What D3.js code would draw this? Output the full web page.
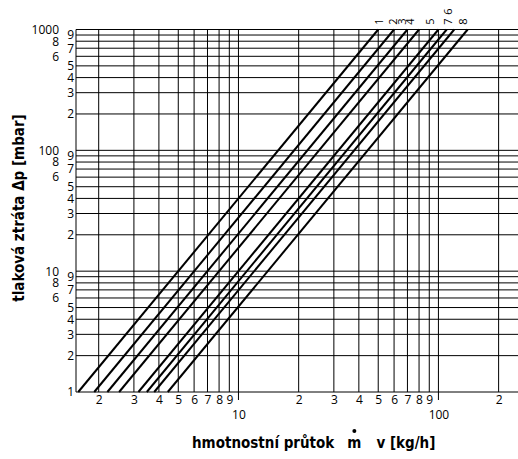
<!DOCTYPE html>
<meta charset="utf-8">
<style>
body { margin: 0; background: #fff; }
svg { display: block; }
.grid line { stroke: #000; stroke-width: 1; }
.curve { fill: none; stroke: #000; stroke-width: 2; }
.tick-label text, .lbl { font-family: "Open Sans", "Noto Sans", sans-serif; font-size: 12px; fill: #000; }
.lbl { font-size: 11px; }
.title { font-family: "Liberation Sans Narrow", "DejaVu Sans Condensed", "Roboto", sans-serif; font-stretch: condensed; font-weight: bold; font-size: 15px; fill: #000; }
</style>
<body>
<script src="https://d3js.org/d3.v7.min.js"></script>
<script>

var width = 518,
    height = 459;

// curve numbers and the flow (kg/h) where each curve meets 1 mbar and 1000 mbar
var curveIds = ["1", "2", "3", "4", "5", "6", "7", "8"];
var flowAt1 = [1.58, 1.90, 2.21, 2.53, 3.16, 3.48, 3.79, 4.43];
var flowAt1000 = [50, 60, 70, 80, 100, 110, 120, 140];
var pressureEnds = [1, 1000];

// grid values
var xGrid = [2, 3, 4, 5, 6, 7, 8, 9, 10, 20, 30, 40, 50, 60, 70, 80, 90, 100, 200];
var yGrid = [1, 2, 3, 4, 5, 6, 7, 8, 9, 10, 20, 30, 40, 50, 60, 70, 80, 90,
             100, 200, 300, 400, 500, 600, 700, 800, 900, 1000];

// tick labels
var xMinorTicks = [2, 3, 4, 5, 6, 7, 8, 9, 20, 30, 40, 50, 60, 70, 80, 90, 200];
var xMajorTicks = [10, 100];
var yInnerTicks = [1, 2, 3, 4, 5, 7, 9, 20, 30, 40, 50, 70, 90, 200, 300, 400, 500, 700, 900];
var yOuterTicks = [6, 8, 10, 60, 80, 100, 600, 800, 1000];

var x = d3.scaleLog().domain([1.54, 250]).range([76, 518]);
var y = d3.scaleLog().domain([1, 1000]).range([392, 29.5]);

var svg = d3.select("body").append("svg")
    .attr("width", width)
    .attr("height", height);

// grid
var grid = svg.append("g").attr("class", "grid");

grid.selectAll("line.h")
  .data(yGrid)
  .enter().append("line")
    .attr("class", "h")
    .attr("x1", x.range()[0])
    .attr("x2", x.range()[1])
    .attr("y1", function(d) { return y(d); })
    .attr("y2", function(d) { return y(d); });

grid.selectAll("line.v")
  .data(xGrid)
  .enter().append("line")
    .attr("class", "v")
    .attr("x1", function(d) { return x(d); })
    .attr("x2", function(d) { return x(d); })
    .attr("y1", y.range()[1])
    .attr("y2", function(d) { return xMajorTicks.indexOf(d) >= 0 ? y.range()[0] + 8 : y.range()[0]; });

// left border
grid.append("line")
    .attr("x1", x.range()[0]).attr("x2", x.range()[0])
    .attr("y1", y.range()[1]).attr("y2", y.range()[0]);

// y tick labels, two columns
function yAxis(values, pad) {
  return d3.axisLeft(y)
      .tickValues(values)
      .tickFormat(d3.format("d"))
      .tickSize(0)
      .tickPadding(pad);
}

svg.append("g")
    .attr("class", "tick-label")
    .attr("transform", "translate(" + x.range()[0] + ",0)")
    .call(yAxis(yInnerTicks, 2))
    .call(function(g) { g.select(".domain").remove(); })
    .selectAll("text")
    .text(function(d) { return d === 1 ? "1" : String(d).charAt(0); });

svg.append("g")
    .attr("class", "tick-label")
    .attr("transform", "translate(" + x.range()[0] + ",0)")
    .call(yAxis(yOuterTicks, 17))
    .call(function(g) { g.select(".domain").remove(); })
    .selectAll("text")
    .text(function(d) { return (d === 10 || d === 100 || d === 1000) ? d : String(d).charAt(0); });

// x tick labels
svg.append("g")
    .attr("class", "tick-label")
    .attr("transform", "translate(0," + y.range()[0] + ")")
    .call(d3.axisBottom(x).tickValues(xMinorTicks).tickSize(0).tickPadding(3)
      .tickFormat(function(d) { return String(d).charAt(0); }))
    .call(function(g) { g.select(".domain").remove(); });

svg.append("g")
    .attr("class", "tick-label")
    .attr("transform", "translate(0," + y.range()[0] + ")")
    .call(d3.axisBottom(x).tickValues(xMajorTicks).tickSize(0).tickPadding(18)
      .tickFormat(d3.format("d")))
    .call(function(g) { g.select(".domain").remove(); });

d3.selectAll(".tick-label").attr("font-family", null).attr("font-size", null);

// curves
var curves = curveIds.map(function(id, i) {
  return { id: id, pts: [[flowAt1[i], pressureEnds[0]], [flowAt1000[i], pressureEnds[1]]] };
});

var line = d3.line()
    .x(function(d) { return x(d[0]); })
    .y(function(d) { return y(d[1]); });

svg.append("g")
  .selectAll("path")
  .data(curves)
  .enter().append("path")
    .attr("class", "curve")
    .attr("d", function(d) { return line(d.pts); });

// curve numbers above the top ends (rotated, read bottom to top)
var labelNudge = [1, -1, -5, -9, -8, 1, -6, -5];
svg.append("g")
  .selectAll("text")
  .data(curves)
  .enter().append("text")
    .attr("class", "lbl")
    .attr("transform", function(d, i) {
      var lx = x(d.pts[1][0]) + labelNudge[i] + 4;
      var ly = d.id === "6" ? 11.5 : 21.5;
      return "translate(" + lx + "," + ly + ") rotate(-90)";
    })
    .attr("text-anchor", "middle")
    .text(function(d) { return d.id; });

// axis titles
svg.append("text")
    .attr("class", "title")
    .attr("transform", "translate(24,208) rotate(-90)")
    .attr("text-anchor", "middle")
    .text("tlaková ztráta Δp [mbar]");

var xt = svg.append("text")
    .attr("class", "title")
    .attr("x", 192)
    .attr("y", 448);
xt.append("tspan").text("hmotnostní průtok");
xt.append("tspan").attr("dx", 13).text("m");
xt.append("tspan").attr("dx", 15).text("v [kg/h]");

// dot over m
var mNode = xt.node();
var mIdx = "hmotnostní průtok".length;
var mStart = mNode.getStartPositionOfChar(mIdx);
var mEnd = mNode.getEndPositionOfChar(mIdx);
svg.append("circle")
    .attr("cx", (mStart.x + mEnd.x) / 2)
    .attr("cy", 431)
    .attr("r", 2)
    .attr("fill", "#000");

</script>
</body>
